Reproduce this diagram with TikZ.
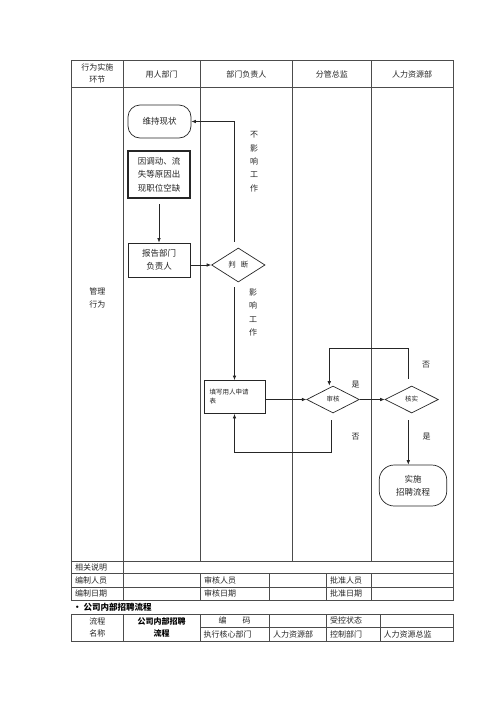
\documentclass[tikz,border=0pt]{standalone}
\usepackage{fontspec}
\setmainfont{Noto Sans CJK SC}
\usetikzlibrary{shapes.geometric,arrows.meta,calc}
\begin{document}
\begin{tikzpicture}[x=1pt,y=-1pt,
  tline/.style={draw=black!70,line width=0.6pt},
  fline/.style={draw=black!85,line width=0.7pt},
  arr/.style={fline,-{Latex[length=4.5pt,width=3.6pt]}},
  txt/.style={font=\fontsize{8}{10}\selectfont,text=black!85,inner sep=0pt},
  ctxt/.style={txt,align=center,font=\fontsize{8}{12.5}\selectfont},
  ltxt/.style={txt,anchor=west},
  vtxt/.style={txt,align=center,font=\fontsize{8}{13.3}\selectfont},
  sqbox/.style={fline,minimum width=62pt,minimum height=34pt,align=center,inner sep=0pt,font=\fontsize{8.5}{13.3}\selectfont,text=black!85},
  thbox/.style={sqbox,line width=2pt,minimum height=47pt},
  rdbox/.style={sqbox,rounded corners=12pt},
  dia/.style={fline,diamond,inner sep=0pt,aspect=2,font=\fontsize{6.5}{8}\selectfont,text=black!85},
  yn/.style={txt,font=\fontsize{8}{10}\selectfont}
]
\useasboundingbox[fill=white] (0,0) rectangle (500,707);

% ---------- main table ----------
\draw[tline] (71.5,60) rectangle (453,600);
\draw[tline] (71.5,87) -- (453,87);
\draw[tline] (71.5,561) -- (453,561);
\draw[tline] (71.5,573.5) -- (453,573.5);
\draw[tline] (71.5,587) -- (453,587);
\draw[tline] (123,60) -- (123,600);
\draw[tline] (200,60) -- (200,561);
\draw[tline] (292.5,60) -- (292.5,561);
\draw[tline] (371,60) -- (371,561);
\foreach \xx in {200,269,326,371} \draw[tline] (\xx,573.5) -- (\xx,600);

% header
\node[ctxt] (h0) at (97.25,73.5) {行为实施\\环节};
\node[txt] (h1) at (161.5,74) {用人部门};
\node[txt] (h2) at (246.25,74) {部门负责人};
\node[txt] (h3) at (331.75,74) {分管总监};
\node[txt] (h4) at (412,74) {人力资源部};
\node[ctxt] (h5) at (97.25,298) {管理\\行为};

% bottom rows
\node[ltxt] (r1) at (75,567.25) {相关说明};
\node[ltxt] (r2) at (75,580.25) {编制人员};
\node[ltxt] (r3) at (75,593.5) {编制日期};
\node[ltxt] (r4) at (204,580.25) {审核人员};
\node[ltxt] (r5) at (204,593.5) {审核日期};
\node[ltxt] (r6) at (330,580.25) {批准人员};
\node[ltxt] (r7) at (330,593.5) {批准日期};

% title
\node[txt,anchor=west,font=\bfseries\fontsize{8.5}{10}\selectfont,text=black] (title) at (73,607) {•\hspace{2pt}公司内部招聘流程};

% bottom table
\draw[tline] (71.5,614) rectangle (453,641);
\draw[tline] (200,627.5) -- (453,627.5);
\foreach \xx in {123,200,269,326,380} \draw[tline] (\xx,614) -- (\xx,641);
\node[ctxt] (b0) at (97.25,627.5) {流程\\名称};
\node[ctxt,font=\bfseries\fontsize{8}{12.5}\selectfont,text=black] (b1) at (161.5,627.5) {公司内部招聘\\流程};
\node[txt] (b2) at (234.5,620.75) {编\hspace{2em}码};
\node[ltxt] (b3) at (330,620.75) {受控状态};
\node[ltxt] (b4) at (203.5,634.25) {执行核心部门};
\node[ltxt] (b5) at (273,634.25) {人力资源部};
\node[ltxt] (b6) at (330,634.25) {控制部门};
\node[ltxt] (b7) at (383.5,634.25) {人力资源总监};

% ---------- flow ----------
\node[rdbox,minimum width=63pt,minimum height=33pt] (keep) at (159.5,121.5) {维持现状};
\node[thbox] (vac) at (159,174.5) {因调动、流\\失等原因出\\现职位空缺};
\node[sqbox] (rep) at (159,260) {报告部门\\负责人};
\node[dia,minimum width=53.5pt,minimum height=34pt,font=\fontsize{7.5}{9}\selectfont] (pd) at (238.3,265) {判\hspace{5pt}断};
\node[fline,minimum width=61pt,minimum height=33pt,inner xsep=5.5pt,inner ysep=0pt,text width=50pt,align=left,font=\fontsize{6.5}{9}\selectfont,text=black!85] (fill) at (234.5,397) {填写用人申请\\表};
\node[dia,minimum width=52.6pt,minimum height=27pt] (sh) at (333,399.5) {审核};
\node[dia,minimum width=53.3pt,minimum height=27pt] (hs) at (411.7,399.5) {核实};
\node[rdbox,minimum width=67.5pt,minimum height=41pt,rounded corners=15pt] (impl) at (413,485.5) {实施\\招聘流程};

\draw[arr] ($(vac.south)+(0,5)$) -- (rep.north);
\draw[arr] (rep.east |- pd.west) -- (pd.west);
\coordinate (pdt) at ($(fill.north |- pd.north)+(0,-6)$);
\draw[arr] (pdt) |- (keep.east);
\coordinate (pdb) at ($(fill.north |- pd.south)+(0,5)$);
\draw[arr] (pdb) -- (fill.north);
\draw[arr] (fill.east |- sh.west) -- (sh.west);
\draw[arr] (sh.east) -- (hs.west);
\coordinate (hst) at ($(hs.north)+(-3.4,-7)$);
\coordinate (lpR) at (408.3,348.3);
\coordinate (lpL) at (329.3,348.3);
\draw[arr] (hst) -- (lpR) -- (lpL) -- (lpL |- sh.north);
\coordinate (shb) at ($(sh.south)+(-1.3,7)$);
\coordinate (nb) at (331.7,452.7);
\draw[arr] (shb) -- (nb) -| (fill.south);
\coordinate (hsb) at ($(hs.south)+(-3.4,7)$);
\draw[arr] (hsb) -- (hsb |- impl.north);

% labels
\node[vtxt] (l1) at (254,161.7) {不\\影\\响\\工\\作};
\node[vtxt] (l2) at (253,312.5) {影\\响\\工\\作};
\node[yn] (y1) at (355.7,384.3) {是};
\node[yn] (n1) at (426,365) {否};
\node[yn] (n2) at (355.7,436.7) {否};
\node[yn] (y2) at (426.7,436.7) {是};
\end{tikzpicture}
\end{document}
